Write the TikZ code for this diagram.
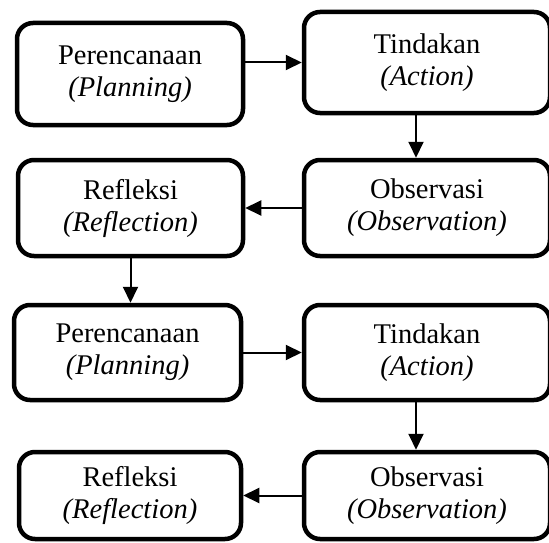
\documentclass[tikz,border=0pt]{standalone}
\usepackage{fontspec}
\setmainfont{Liberation Serif}
\usetikzlibrary{arrows.meta}
\usetikzlibrary{calc}
\tikzset{
  stage/.style={
    draw, line width=4.5pt, rounded corners=16pt,
    align=center, inner sep=0,
    font=\fontsize{28.5}{32}\selectfont
  },
  arrow/.style={-{Triangle[length=16pt,width=15pt]}, line width=2pt}
}

\begin{document}
\begin{tikzpicture}[x=1pt, y=-1pt]
      \path[use as bounding box, clip] (0,0) rectangle (549,543);

      \node (plan1) [stage, minimum width=226pt, minimum height=102pt] at (130,74)
        {Perencanaan\\\textit{(Planning)}};
      \node (act1) [stage, minimum width=246pt, minimum height=101pt] at (427,62.5)
        {Tindakan\\\textit{(Action)}};
      \node (refl1) [stage, minimum width=225pt, minimum height=96pt] at (130.5,208)
        {Refleksi\\\textit{(Reflection)}};
      \node (obs1) [stage, minimum width=246pt, minimum height=96pt] at (427,208)
        {Observasi\\\textit{(Observation)}};

      \node (plan2) [stage, minimum width=227pt, minimum height=95pt] at (127.5,352.5)
        {Perencanaan\\\textit{(Planning)}};
      \node (act2) [stage, minimum width=246pt, minimum height=95pt] at (427,352.5)
        {Tindakan\\\textit{(Action)}};
      \node (refl2) [stage, minimum width=222pt, minimum height=87pt] at (130,495.5)
        {Refleksi\\\textit{(Reflection)}};
      \node (obs2) [stage, minimum width=246pt, minimum height=87pt] at (427,495.5)
        {Observasi\\\textit{(Observation)}};

      \draw [arrow] (act1.west -| plan1.east) -- (act1.west);
      \draw [arrow] ([xshift=-11pt]act1.south) -- ([xshift=-11pt]obs1.north);
      \draw [arrow] (obs1.west) -- (refl1.east);
      \draw [arrow] (refl1.south) -- (refl1.south |- plan2.north);
      \draw [arrow] (plan2.east) -- (plan2.east -| act2.west);
      \draw [arrow] ([xshift=-11pt]act2.south) -- ([xshift=-11pt]obs2.north);
      \draw [arrow] (obs2.west) -- (obs2.west -| refl2.east);
    \end{tikzpicture}
\end{document}
